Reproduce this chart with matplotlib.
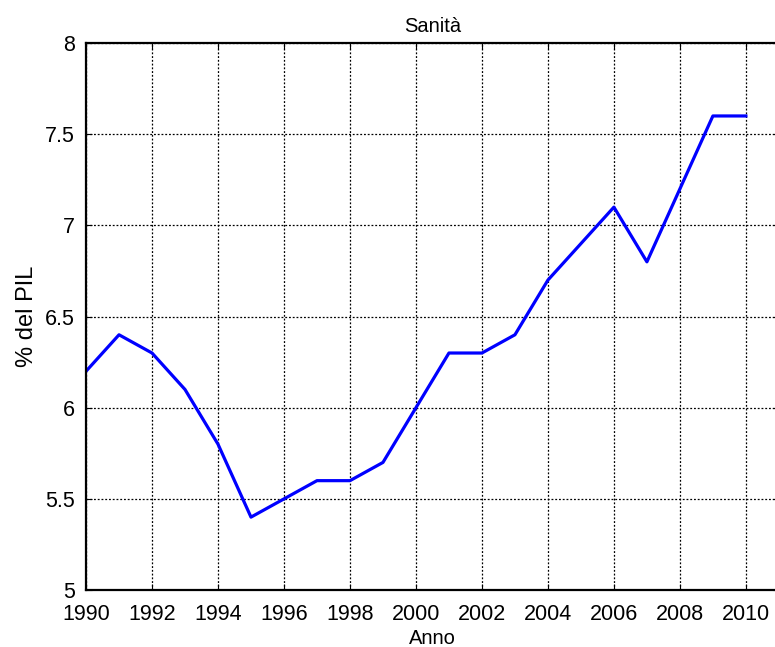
import numpy as np
import matplotlib
matplotlib.use('Agg')
import matplotlib.pyplot as plt

plt.rcParams['font.family'] = ['Liberation Sans', 'DejaVu Sans']

anni = [1990, 1991, 1992, 1993, 1994, 1995, 1996, 1997, 1998, 1999, 2000,
        2001, 2002, 2003, 2004, 2005, 2006, 2007, 2008, 2009, 2010]
pil = [6.2, 6.4, 6.3, 6.1, 5.8, 5.4, 5.5, 5.6, 5.6, 5.7, 6.0,
       6.3, 6.3, 6.4, 6.7, 6.9, 7.1, 6.8, 7.2, 7.6, 7.6]
xticks = list(range(1990, 2011, 2))
yticks = [5, 5.5, 6, 6.5, 7, 7.5, 8]

fig = plt.figure(figsize=(7.75, 6.47), dpi=100)
ax = fig.add_axes([0.111, 0.088, 0.894, 0.8455])

ax.plot(anni, pil, '-', color='#0000ff', lw=2.3)
ax.set_xlim(1990, 2011)
ax.set_ylim(5, 8)
ax.set_xticks(xticks)
ax.set_yticks(yticks)
ax.set_yticklabels(['5', '5.5', '6', '6.5', '7', '7.5', '8'])
ax.grid(True, color='black', linestyle=(0, (1.5, 1.5)), lw=0.9)
ax.tick_params(direction='in', length=4, width=0.8, labelsize=15.5,
               top=True, right=True)
ax.tick_params(axis='x', pad=10)
ax.tick_params(axis='y', pad=8)
for s in ax.spines.values():
    s.set_linewidth(1.6)

ax.set_title('Sanità', fontsize=14.5, pad=8)
ax.set_xlabel('Anno', fontsize=14.5, labelpad=3)
ax.set_ylabel('% del PIL', fontsize=17, labelpad=5)

plt.savefig('out.png', dpi=100)
